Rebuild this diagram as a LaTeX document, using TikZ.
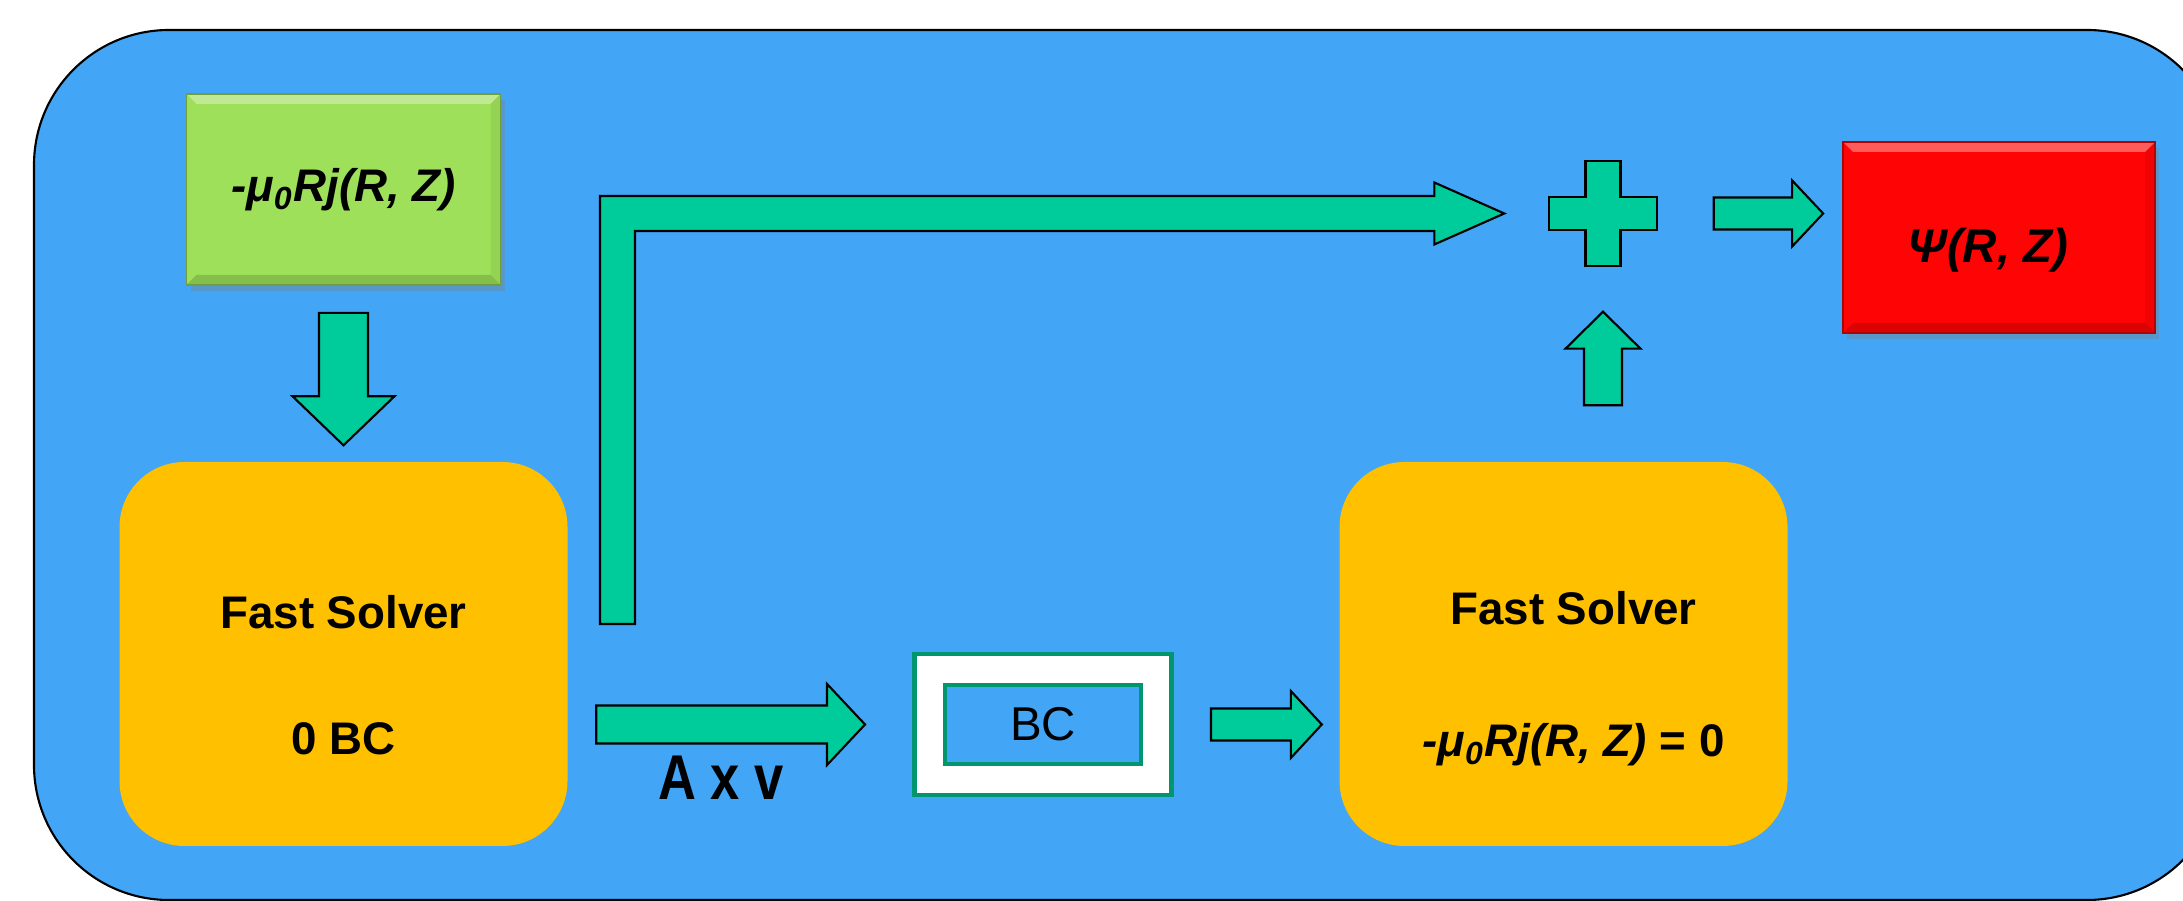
\documentclass[tikz,border=0pt]{standalone}
\usepackage{graphicx}
\usepackage{fontspec}
\setmainfont{Liberation Sans}
\usepackage{tikz}
\usetikzlibrary{calc,shadows}
\pgfdeclarelayer{bg}
\pgfsetlayers{bg,main}

\definecolor{panelblue}{RGB}{66,165,245}
\definecolor{srcgreen}{RGB}{158,224,90}
\definecolor{solverorange}{RGB}{255,192,0}
\definecolor{psired}{RGB}{255,4,4}
\definecolor{arrowteal}{RGB}{0,204,155}
\definecolor{bcteal}{RGB}{0,150,110}

\begin{document}
\begin{tikzpicture}[
        boxtext/.style={font=\fontsize{13pt}{15.6pt}\selectfont\bfseries, align=center, inner sep=0pt},
        shadowbox/.style={draw=#1!70!black, fill=#1, line width=0.5pt,
                drop shadow={shadow xshift=0.04cm, shadow yshift=-0.06cm, opacity=0.35},
                path picture={
                        \fill [white, opacity=0.35] (path picture bounding box.north west) -- (path picture bounding box.north east)
                                -- ([shift={(-0.1,-0.1)}]path picture bounding box.north east) -- ([shift={(0.1,-0.1)}]path picture bounding box.north west) -- cycle;
                        \fill [black, opacity=0.15] (path picture bounding box.south west) -- (path picture bounding box.south east)
                                -- ([shift={(-0.1,0.1)}]path picture bounding box.south east) -- ([shift={(0.1,0.1)}]path picture bounding box.south west) -- cycle;
                        \fill [black, opacity=0.06] (path picture bounding box.north east) -- (path picture bounding box.south east)
                                -- ([shift={(-0.1,0.1)}]path picture bounding box.south east) -- ([shift={(-0.1,-0.1)}]path picture bounding box.north east) -- cycle;
                }},
        solver/.style={fill=solverorange, rounded corners=0.65cm, minimum width=4.48cm, minimum height=3.84cm},
        bcframe/.style={draw=bcteal, line width=1.4pt, fill=white},
        bcinner/.style={draw=bcteal, line width=1.4pt, fill=panelblue, font=\fontsize{13.5pt}{16pt}\selectfont},
        fatarrow/.style={draw=black, fill=arrowteal, line width=0.6pt, line join=miter},
        fat/.style n args={3}{fatarrow, to path={let \p1=(\tikztostart), \p2=(\tikztotarget), \n1={atan2(\y2-\y1,\x2-\x1)} in
                ($(\p1)+(\n1+90:#1)$) -- ($(\p2)+(\n1+180:#3)+(\n1+90:#1)$) -- ($(\p2)+(\n1+180:#3)+(\n1+90:#2)$) -- (\p2)
                -- ($(\p2)+(\n1+180:#3)+(\n1-90:#2)$) -- ($(\p2)+(\n1+180:#3)+(\n1-90:#1)$) -- ($(\p1)+(\n1-90:#1)$) -- cycle}}
    ]
        \useasboundingbox (0,0) rectangle (21.83,9.01);
        \node (src) [shadowbox=srcgreen, minimum width=3.14cm, minimum height=1.91cm, boxtext] at (3.435000cm, 7.115000cm) {\itshape -μ\textsubscript{0}Rj(R, Z)};
        \node (psi) [shadowbox=psired, minimum width=3.12cm, minimum height=1.91cm] at (19.990000cm, 6.635000cm) {};
        \node (psitxt) [boxtext, font=\fontsize{13.5pt}{16pt}\selectfont\bfseries] at (19.880000cm, 6.510000cm) {\itshape Ψ(R, Z)};
        \node (solve0) [solver] at (3.435000cm, 2.470000cm) {};
        \node (solve0txt) [boxtext] at (3.435000cm, 2.260000cm) {Fast Solver\\[0.71cm]0 BC};
        \node (solve1) [solver] at (15.635000cm, 2.470000cm) {};
        \node (solve1txt) [boxtext] at (15.735000cm, 2.220000cm) {Fast Solver\\[0.77cm]{\itshape -μ\textsubscript{0}Rj(R, Z)} = 0};
        \node (bc) [bcframe, minimum width=2.57cm, minimum height=1.41cm] at (10.430000cm, 1.765000cm) {};
        \node (bcin) [bcinner, minimum width=1.96cm, minimum height=0.79cm] at (bc) {BC};
        \node (plus) [minimum width=1.08cm, minimum height=1.05cm, inner sep=0pt] at (16.030000cm, 6.875000cm) {};
        \node (axv) [font=\fontsize{18pt}{21pt}\selectfont\bfseries] at (7.210000cm, 1.235000cm) {\scalebox{0.83}[1]{A x v}};
        \coordinate (lfoot) at (6.175000cm, 2.770000cm);
        % the plus sign
        \draw [fatarrow] ($(plus)+(-0.175,0.525)$) -- ++(0.35,0) -- ++(0,-0.36) -- ++(0.365,0) -- ++(0,-0.33) -- ++(-0.365,0)
                -- ++(0,-0.36) -- ++(-0.35,0) -- ++(0,0.36) -- ++(-0.365,0) -- ++(0,0.33) -- ++(0.365,0) -- cycle;
        \draw [fat={0.245}{0.51}{0.49}] ([yshift=-0.27cm]src.south) to ([yshift=0.16cm]solve0.north);
        \draw [fat={0.19}{0.405}{0.38}] ($(solve0.east |- bc)+(0.28,0)$) to ($(bc.west)+(-0.47,0)$);
        \draw [fat={0.16}{0.335}{0.31}] ($(bc.east)+(0.37,0)$) to ($(solve1.west |- bc)+(-0.17,0)$);
        \draw [fat={0.19}{0.375}{0.37}] ($(plus.south |- solve1.north)+(0,0.56)$) to ($(plus.south)+(0,-0.45)$);
        \draw [fat={0.16}{0.33}{0.31}] ($(plus.east)+(0.56,0)$) to ($(psi.west |- plus)+(-0.19,0)$);
        \draw [fatarrow] let \p1=(lfoot), \p2=($(plus.west)+(-0.44,0)$) in
                ($(\p1)+(-0.175,0)$) |- ($(\p2)+(-0.70,0.175)$) -- ++(0,0.135) -- (\p2) -- ++(-0.70,-0.31) -- ++(0,0.135)
                -| ($(\p1)+(0.175,0)$) -- cycle;
        \begin{pgfonlayer}{bg}
                \draw [draw=black, line width=0.6pt, fill=panelblue, rounded corners=1.35cm] (0.340000cm, 0.010000cm) rectangle (22.220000cm, 8.710000cm);
        \end{pgfonlayer}
\end{tikzpicture}
\end{document}
